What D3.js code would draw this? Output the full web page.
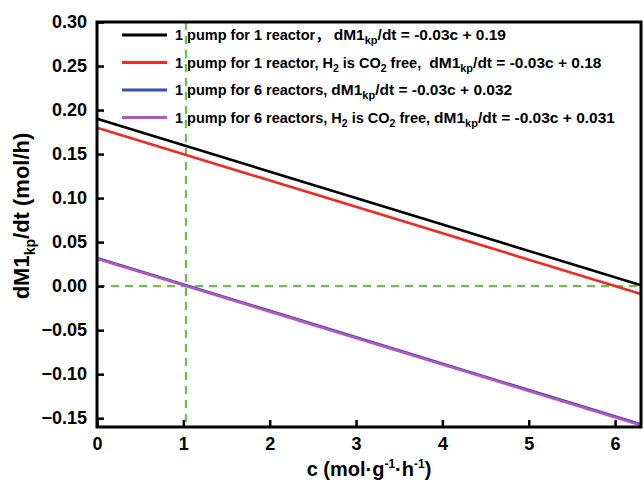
<!DOCTYPE html>
<html>
<head>
<meta charset="utf-8">
<script src="https://cdn.jsdelivr.net/npm/d3@7"></script>
<style>
  body { margin: 0; background: #fff; }
  text { font-family: "Liberation Sans", Arial, sans-serif; font-weight: bold; white-space: pre; }
</style>
</head>
<body>
<div id="chart"></div>
<script>
// data
const xTicks = [0, 1, 2, 3, 4, 5, 6];
const yTicks = [-0.15, -0.10, -0.05, 0.00, 0.05, 0.10, 0.15, 0.20, 0.25, 0.30];
const slopes = [-0.03, -0.03, -0.03, -0.03];
const intercepts = [0.19, 0.18, 0.032, 0.031];
const seriesColors = ["#000000", "#ee2a24", "#3a4fa8", "#b455c0"];
// legend label pieces: [prefix pieces] then formula constant
const seriesPrefix = [
  ["1 pump for 1 reactor", "，", " "],
  ["1 pump for 1 reactor, H", "2", " is CO", "2", " free,  "],
  ["1 pump for 6 reactors, "],
  ["1 pump for 6 reactors, H", "2", " is CO", "2", " free, "]
];
const seriesConst = ["0.19", "0.18", "0.032", "0.031"];
const xGuide = 1.03;
const yGuide = 0;

const width = 643, height = 483;
const margin = { left: 97, right: 2, top: 22, bottom: 56 };

const svg = d3.select("#chart").append("svg")
  .attr("width", width).attr("height", height);

const x = d3.scaleLinear().domain([0, 6.3]).range([margin.left, width - margin.right]);
const y = d3.scaleLinear().domain([-0.16, 0.30]).range([height - margin.bottom, margin.top]);

// guide lines
svg.append("line")
  .attr("x1", x(xGuide)).attr("x2", x(xGuide))
  .attr("y1", y(0.30)).attr("y2", y(-0.16))
  .attr("stroke", "#6cc04a").attr("stroke-width", 2.2).attr("stroke-dasharray", "8,6");
svg.append("line")
  .attr("x1", x(0)).attr("x2", x(6.3))
  .attr("y1", y(yGuide)).attr("y2", y(yGuide))
  .attr("stroke", "#6cc04a").attr("stroke-width", 2.2).attr("stroke-dasharray", "8,6");

// series lines
const line = d3.line().x(d => x(d[0])).y(d => y(d[1]));
intercepts.forEach((b, i) => {
  const pts = [0, 6.3].map(c => [c, slopes[i] * c + b]);
  svg.append("path")
    .attr("d", line(pts))
    .attr("fill", "none")
    .attr("stroke", seriesColors[i])
    .attr("stroke-width", 2.6);
});

// axes
const xAxis = svg.append("g")
  .attr("transform", `translate(0,${y(-0.16)})`)
  .call(d3.axisBottom(x).tickValues(xTicks).tickSizeInner(-7).tickSizeOuter(0).tickPadding(10).tickFormat(d3.format("d")));
const yAxis = svg.append("g")
  .attr("transform", `translate(${x(0)},0)`)
  .call(d3.axisLeft(y).tickValues(yTicks).tickSizeInner(-7).tickSizeOuter(0).tickPadding(10).tickFormat(d3.format(".2f")));
[xAxis, yAxis].forEach(g => {
  g.select(".domain").remove();
  g.selectAll(".tick line").attr("stroke", "#000").attr("stroke-width", 2.5);
  g.selectAll(".tick text").attr("fill", "#000").style("font-size", "18px").style("font-family", "Liberation Sans, Arial, sans-serif").style("font-weight", "bold");
});

// frame
svg.append("rect")
  .attr("x", x(0)).attr("y", y(0.30))
  .attr("width", x(6.3) - x(0)).attr("height", y(-0.16) - y(0.30))
  .attr("fill", "none").attr("stroke", "#000").attr("stroke-width", 3);

// legend
const legend = svg.append("g");
seriesPrefix.forEach((parts, i) => {
  const ly = 35 + i * 27.5;
  legend.append("line")
    .attr("x1", 122).attr("x2", 167).attr("y1", ly).attr("y2", ly)
    .attr("stroke", seriesColors[i]).attr("stroke-width", 3);
  const t = legend.append("text").attr("x", 175).attr("y", ly + 5).style("font-size", "15px");
  let shifted = false;
  const add = (txt, size, sub, family) => {
    const ts = t.append("tspan").text(txt).style("font-size", size + "px");
    if (family) ts.style("font-family", family);
    if (sub && !shifted) { ts.attr("dy", 4); shifted = true; }
    else if (!sub && shifted) { ts.attr("dy", -4); shifted = false; }
  };
  parts.forEach(p => {
    if (p === "2") add(p, 10.5, true);
    else if (p === "，") add(p, 14.5, false, "Noto Sans CJK SC");
    else add(p, 14.5, false);
  });
  add("dM1", 15.5, false);
  add("kp", 11, true);
  add("/dt = -0.03c + " + seriesConst[i], 15.5, false);
});

// axis titles
const xt = svg.append("text")
  .attr("x", (x(0) + x(6.3)) / 2).attr("y", 476)
  .attr("text-anchor", "middle").style("font-size", "20px");
xt.append("tspan").text("c (mol·g");
xt.append("tspan").text("-1").attr("dy", -8).style("font-size", "12px");
xt.append("tspan").text("·h").attr("dy", 8);
xt.append("tspan").text("-1").attr("dy", -8).style("font-size", "12px");
xt.append("tspan").text(")").attr("dy", 8);

const yt = svg.append("text")
  .attr("transform", `translate(29,216) rotate(-90)`)
  .attr("text-anchor", "middle").style("font-size", "22px");
yt.append("tspan").text("dM1");
yt.append("tspan").text("kp").attr("dy", 6).style("font-size", "14px");
yt.append("tspan").text("/dt (mol/h)").attr("dy", -6);
</script>
</body>
</html>
